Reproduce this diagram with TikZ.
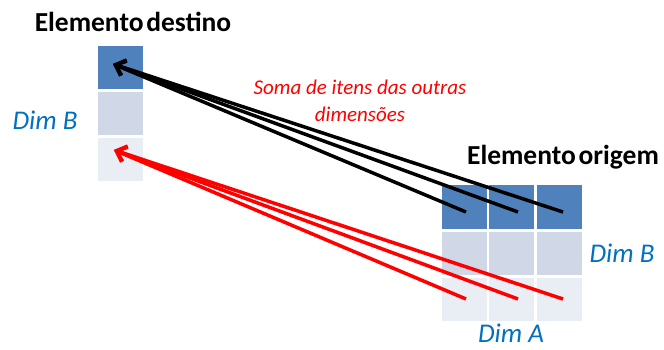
\documentclass[tikz,border=0pt]{standalone}
\usepackage{fontspec}
\setmainfont{Carlito}
\usetikzlibrary{arrows.meta}
\definecolor{cdark}{HTML}{4F81BD}
\definecolor{cmid}{HTML}{D0D8E8}
\definecolor{clight}{HTML}{E9EDF4}
\definecolor{cdim}{HTML}{0070C0}
\begin{document}
\begin{tikzpicture}[x=1pt,y=-1pt,
  cell/.style={draw=white,line width=1.5pt,minimum width=47pt,minimum height=45pt,inner sep=0pt,anchor=north west},
  title/.style={font=\fontsize{27.5}{30}\selectfont\bfseries,text=black,inner sep=0pt},
  dimlab/.style={font=\fontsize{27}{30}\selectfont\itshape,text=cdim,inner sep=0pt},
  conn/.style={line width=3.5pt,-{Straight Barb[length=9pt,width=16pt,line width=3.5pt]}}]
\useasboundingbox (0,0) rectangle (664,349);
% destination column
\node[cell,fill=cdark] (d1) at (96,44) {};
\node[cell,fill=cmid] (d2) at (96,90) {};
\node[cell,fill=clight] (d3) at (96,136) {};
% origin grid
\foreach \c/\x in {1/440,2/487,3/535}{
  \node[cell,fill=cdark,minimum height=46pt] (o1\c) at (\x,183) {};
  \node[cell,fill=cmid,minimum height=45pt] (o2\c) at (\x,230) {};
  \node[cell,fill=clight,minimum height=45pt] (o3\c) at (\x,276) {};
}
% texts
\node[title] (t1) at (133,22) {Elemento\hspace{0.1em}destino};
\node[title] (t2) at (563,157) {Elemento\hspace{0.1em}origem};
\node[dimlab] (db1) at (45,120) {Dim B};
\node[dimlab] (db2) at (622,253) {Dim B};
\node[dimlab] (da) at (511,333) {Dim A};
\node[font=\fontsize{21}{27}\selectfont\itshape,text=red,align=center,inner sep=0pt] (soma) at (360,101) {Soma de itens das outras\\dimensões};
% endpoints
\coordinate (tb) at (113,64);
\coordinate (tr) at (114,150);
\coordinate (b1) at (466,212);
\coordinate (b2) at (518,212);
\coordinate (b3) at (563,212);
\coordinate (r1) at (466,299);
\coordinate (r2) at (518,299);
\coordinate (r3) at (563,299);
\foreach \p in {b1,b2,b3}{\draw[conn,black] (\p) -- (tb);}
\foreach \p in {r1,r2,r3}{\draw[conn,red] (\p) -- (tr);}
\end{tikzpicture}
\end{document}
